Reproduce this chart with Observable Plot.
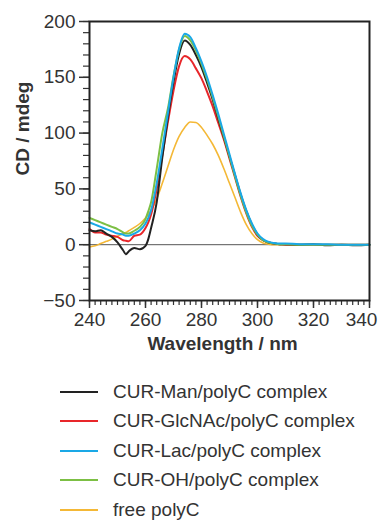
<!DOCTYPE html>
<html>
<head>
<meta charset="utf-8">
<script src="https://cdn.jsdelivr.net/npm/d3@7"></script>
<script src="https://cdn.jsdelivr.net/npm/@observablehq/plot@0.6"></script>
<style>
  body { margin: 0; background: #fff; font-family: "Liberation Sans", Arial, sans-serif; }
  #legend { padding-top: 12px; color: #333; font-size: 19px; }
  .row { display: flex; align-items: center; height: 29.5px; }
  .sw { margin-left: 60px; width: 38px; height: 2px; }
  .lb { margin-left: 15px; white-space: nowrap; }
</style>
</head>
<body>
<div id="chart"></div>
<div id="legend"></div>
<script>
const wavelength = [240,242,244,246,248,250,252,253,254,256,258,260,261,262,264,266,268,270,272,274,276,278,280,282,284,286,288,290,292,294,296,298,300,302,304,306,308,310,315,320,325,330,335,340];
const curMan    = [13,12,13,10,7,2,-5,-8.5,-6,-3,-4,-1,5,15,38,78,114,146,171,183,179,170,159,145,130,113,96,79,62,45,30,18,9,4,2,1,0.5,0.5,0,0.5,-0.5,0,-0.5,0];
const curGlcNAc = [14,11,11,9,8,7,4,3.5,3,8,9,15,20,27,50,80,110,138,160,169,166,158,149,137,124,109,94,77,60,43,28,16,8,4,2,1,0.5,0,0,0,0,0,0,0];
const curLac    = [20,18,16,14,12,10,9,8,8,10,13,19,24,31,55,86,118,150,176,189,186,176,164,150,134,117,99,81,63,46,31,19,10,5,2.5,1.5,1,1,0.5,0.5,0.5,0,0,0];
const curOH     = [24,22,20,18,16,14,11,10,10,12.5,16,23,30,38,68,100,122,151,175,187,183,174,162,148,132,115,97,79,61,44,29,17,9,4,2,1,0.5,0.5,0,0,0,0,0,0];
const freePolyC = [-2,-1,1,3,5,7.5,10,11,12.5,15.5,19,24,27,31,41,55,70,85,97,105,110,109.5,105,98,90,80,68,55,42,29,18,10,4.5,1.5,0.5,0,0,0,0,0,0,0,0,0];

const seriesNames  = ["CUR-Man/polyC complex","CUR-GlcNAc/polyC complex","CUR-Lac/polyC complex","CUR-OH/polyC complex","free polyC"];
const seriesValues = [curMan, curGlcNAc, curLac, curOH, freePolyC];
const seriesColors = ["#222222","#e8262a","#1aa8e6","#7cbf44","#f4b836"];
const drawOrder = [4,1,0,3,2];

const xTicks = [240,260,280,300,320,340];
const yTicks = [-50,0,50,100,150,200];

const data = [];
seriesNames.forEach((name, i) => {
  wavelength.forEach((w, j) => data.push({series: name, wl: w, cd: seriesValues[i][j]}));
});

const lines = drawOrder.map(i => Plot.line(data.filter(d => d.series === seriesNames[i]), {
  x: "wl", y: "cd", stroke: seriesColors[i], strokeWidth: i === 4 ? 1.6 : 2, curve: "monotone-x"
}));

const chart = Plot.plot({
  width: 380, height: 365,
  marginLeft: 89, marginRight: 11, marginTop: 21, marginBottom: 65,
  style: {fontFamily: "'Liberation Sans', Arial, sans-serif", fontSize: "19px", color: "#333", background: "#fff"},
  x: {domain: [240, 340]},
  y: {domain: [-50, 200]},
  marks: [
    Plot.ruleY([0], {stroke: "#555", strokeWidth: 1}),
    ...lines,
    Plot.axisX(d3.range(240, 341, 2), {tickSize: 5, tickFormat: () => "", stroke: "#333", strokeWidth: 1.2, label: null}),
    Plot.axisX(xTicks, {tickSize: 8, tickFormat: () => "", stroke: "#333", strokeWidth: 1.5, label: null}),
    Plot.axisX(xTicks.slice(0, -1), {tickSize: 0, tickPadding: 12, fill: "#333", fontSize: 19, label: null}),
    Plot.axisX(xTicks.slice(-1), {tickSize: 0, tickPadding: 12, dx: -8, fill: "#333", fontSize: 19, label: null}),
    Plot.axisY(d3.range(-50, 201, 10), {tickSize: 6, tickFormat: () => "", stroke: "#333", strokeWidth: 1.2, label: null}),
    Plot.axisY(yTicks, {tickSize: 10, tickPadding: 4, stroke: "#333", strokeWidth: 1.5, fill: "#333", fontSize: 19, label: null}),
    Plot.frame({stroke: "#222", strokeWidth: 2}),
    Plot.text(["Wavelength / nm"], {frameAnchor: "bottom", dy: 49, dx: -7, fontWeight: "bold", fontSize: 19, fill: "#333"}),
    Plot.text(["CD / mdeg"], {frameAnchor: "left", dx: -67, dy: 14.5, rotate: -90, fontWeight: "bold", fontSize: 19, fill: "#333"})
  ]
});
document.getElementById("chart").appendChild(chart);

const legend = document.getElementById("legend");
seriesNames.forEach((name, i) => {
  const row = document.createElement("div");
  row.className = "row";
  const sw = document.createElement("div");
  sw.className = "sw";
  sw.style.background = seriesColors[i];
  const lb = document.createElement("span");
  lb.className = "lb";
  lb.textContent = name;
  row.appendChild(sw); row.appendChild(lb);
  legend.appendChild(row);
});
</script>
</body>
</html>
